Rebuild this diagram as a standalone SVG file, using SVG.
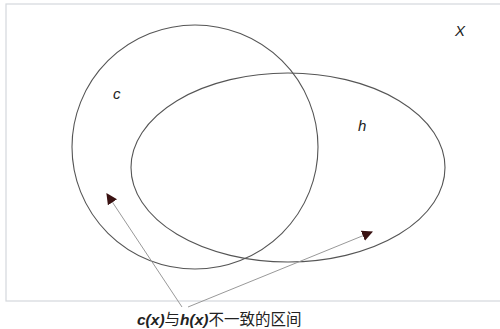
<svg xmlns="http://www.w3.org/2000/svg" width="500" height="329" viewBox="0 0 500 329">
<style>
.set{fill:none;stroke:#555;stroke-width:1.1}
.lbl{font-family:"Liberation Sans",Arial,sans-serif;font-style:italic;font-size:15px;fill:#222}
.conn{stroke:#999;stroke-width:1;fill:none}
.cap{font-family:"Liberation Sans","Noto Sans CJK SC",sans-serif;font-size:15.5px;fill:#222}
</style>
<defs>
<marker id="ah" viewBox="0 0 10 10" refX="9" refY="5" markerWidth="11" markerHeight="11" markerUnits="userSpaceOnUse" orient="auto">
<path d="M0,0 L10,5 L0,10 Z" fill="#3a1212"/>
</marker>
</defs>
<rect x="6" y="4" width="510" height="297" fill="#fff" stroke="#d4d8dc" stroke-width="1.2"/>
<g id="c">
<ellipse class="set" cx="195" cy="147" rx="123" ry="122"/>
<text class="lbl" x="113" y="99">c</text>
</g>
<g id="h">
<ellipse class="set" cx="288" cy="167.5" rx="157" ry="94.5"/>
<text class="lbl" x="358" y="131">h</text>
</g>
<g id="X">
<text class="lbl" x="455" y="36" font-size="14">X</text>
</g>
<g id="connectors">
<line class="conn" x1="182" y1="307" x2="107" y2="194" marker-end="url(#ah)"/>
<line class="conn" x1="188" y1="307" x2="372" y2="232" marker-end="url(#ah)"/>
</g>
<g id="caption">
<text class="cap" x="137" y="325"><tspan font-style="italic" font-weight="bold">c(x)</tspan>与<tspan font-style="italic" font-weight="bold">h(x)</tspan>不一致的区间</text>
</g>
</svg>
